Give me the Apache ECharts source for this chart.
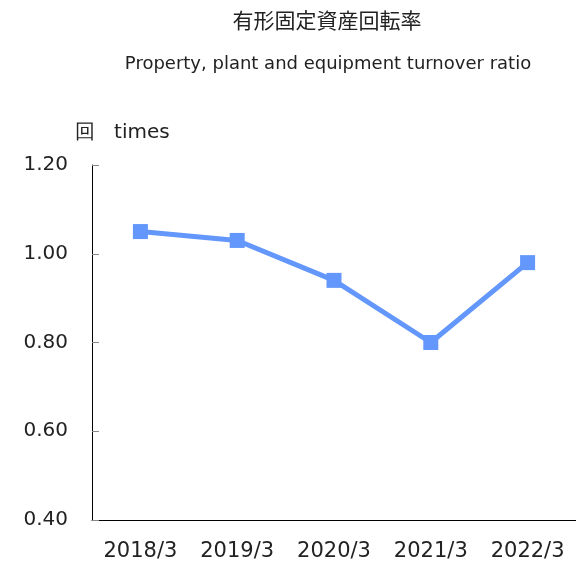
<!DOCTYPE html>
<html>
<head>
<meta charset="utf-8">
<script src="https://cdn.jsdelivr.net/npm/echarts@6/dist/echarts.min.js"></script>
<style>
  html, body { margin: 0; padding: 0; background: #fff; }
  #chart { width: 576px; height: 562px; }
</style>
</head>
<body>
<div id="chart"></div>
<script>
// data
const years = ["2018/3", "2019/3", "2020/3", "2021/3", "2022/3"];
const turnover = [1.05, 1.03, 0.94, 0.80, 0.98];
const yTicks = { min: 0.4, max: 1.2, step: 0.2 };

const font = "DejaVu Sans";
const chart = echarts.init(document.getElementById("chart"));

chart.setOption({
  animation: false,
  title: [
    {
      text: "有形固定資産回転率",
      left: 322, top: 5, textAlign: "center",
      textStyle: { fontFamily: "Noto Sans CJK JP", fontSize: 21, fontWeight: "normal", color: "#222" }
    },
    {
      text: "Property, plant and equipment turnover ratio",
      left: 323, top: 50, textAlign: "center",
      textStyle: { fontFamily: font, fontSize: 18, fontWeight: "normal", color: "#222" }
    },
    {
      text: "回   times",
      left: 70, top: 118,
      textStyle: { fontFamily: font, fontSize: 20, fontWeight: "normal", color: "#222" }
    }
  ],
  grid: { left: 92, top: 165, width: 487.5, bottom: 42 },
  xAxis: {
    type: "category",
    data: years,
    boundaryGap: true,
    axisLine: { lineStyle: { color: "#000", width: 1 } },
    axisTick: { inside: true, length: 6, lineStyle: { color: "#888" } },
    axisLabel: { fontFamily: font, fontSize: 21, color: "#222", margin: 21 }
  },
  yAxis: {
    type: "value",
    min: yTicks.min, max: yTicks.max, interval: yTicks.step,
    splitLine: { show: false },
    axisLine: { show: true, lineStyle: { color: "#000", width: 1 } },
    axisTick: { show: true, inside: true, length: 7, lineStyle: { color: "#888" } },
    axisLabel: {
      fontFamily: font, fontSize: 20, color: "#222", margin: 24,
      formatter: v => v.toFixed(2)
    }
  },
  series: [{
    type: "line",
    data: turnover,
    symbol: "rect",
    symbolSize: 15,
    lineStyle: { width: 5, color: "#6397fb" },
    itemStyle: { color: "#6397fb" }
  }]
});
</script>
</body>
</html>
